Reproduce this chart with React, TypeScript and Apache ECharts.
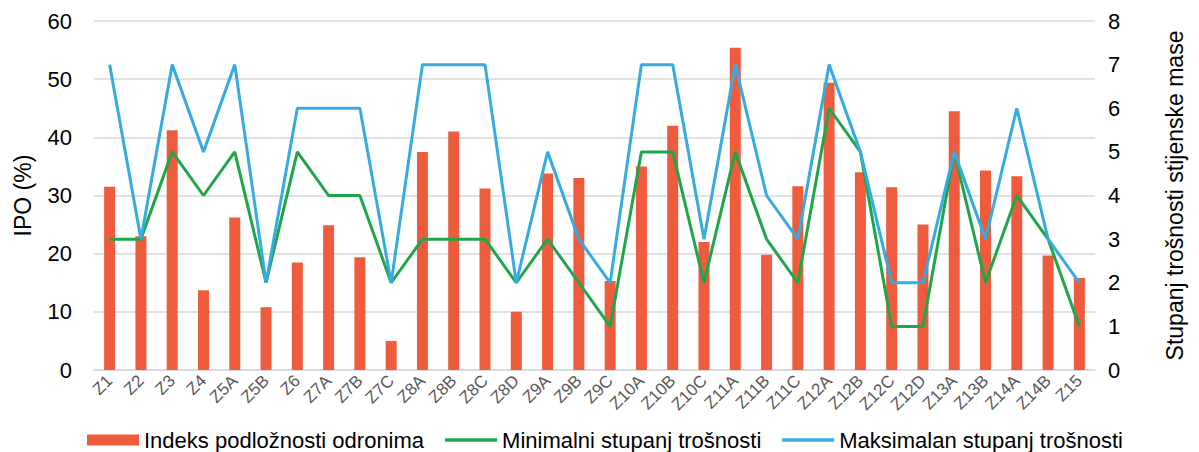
import React, { useEffect, useRef } from "react";
import * as echarts from "echarts";

const categories = ["Z1","Z2","Z3","Z4","Z5A","Z5B","Z6","Z7A","Z7B","Z7C","Z8A","Z8B","Z8C","Z8D","Z9A","Z9B","Z9C","Z10A","Z10B","Z10C","Z11A","Z11B","Z11C","Z12A","Z12B","Z12C","Z12D","Z13A","Z13B","Z14A","Z14B","Z15"];
const ipo = [31.5,23,41.2,13.7,26.2,10.8,18.5,24.9,19.4,5,37.5,41,31.2,10,33.8,33,15.3,35,42,22,55.4,19.8,31.6,49.4,34,31.4,25,44.5,34.3,33.3,19.7,15.8];
const minGrade = [3,3,5,4,5,2,5,4,4,2,3,3,3,2,3,2,1,5,5,2,5,3,2,6,5,1,1,5,2,4,3,1];
const maxGrade = [7,3,7,5,7,2,6,6,6,2,7,7,7,2,5,3,2,7,7,3,7,4,3,7,5,2,2,5,3,6,3,2];
const leftTicks = { min: 0, max: 60, interval: 10 };
const rightTicks = { min: 0, max: 8, interval: 1 };

const FONT = "'Liberation Sans', Arial, sans-serif";
const LINE_ICON = "path://M0,0 L54,0 L54,3.5 L0,3.5 Z";

export default function App() {
  const ref = useRef<HTMLDivElement>(null);
  useEffect(() => {
    if (!ref.current) return;
    const chart = echarts.init(ref.current, undefined, { renderer: "svg" });
    chart.setOption({
      animation: false,
      textStyle: { fontFamily: FONT },
      grid: { left: 94, right: 104, top: 21, bottom: 82 },
      legend: {
        top: 424,
        left: 82,
        itemGap: 21,
        itemWidth: 52,
        itemHeight: 11,
        textStyle: { fontSize: 22, color: "#000", fontFamily: FONT },
        data: [
          { name: "Indeks podložnosti odronima", icon: "rect" },
          { name: "Minimalni stupanj trošnosti", icon: LINE_ICON },
          { name: "Maksimalan stupanj trošnosti", icon: LINE_ICON },
        ],
      },
      xAxis: {
        type: "category",
        data: categories,
        axisLine: { lineStyle: { color: "#d9d9d9", width: 1.5 } },
        axisTick: { show: false },
        axisLabel: { rotate: 45, fontSize: 17, color: "#595959", margin: 8, interval: 0, fontFamily: FONT },
      },
      yAxis: [
        {
          type: "value",
          ...leftTicks,
          name: "IPO (%)",
          nameLocation: "middle",
          nameGap: 60,
          nameTextStyle: { fontSize: 23, color: "#000", fontFamily: FONT },
          axisLabel: { fontSize: 22, color: "#000", margin: 22, fontFamily: FONT },
          splitLine: { lineStyle: { color: "#d9d9d9", width: 1.5 } },
          axisLine: { show: false },
          axisTick: { show: false },
        },
        {
          type: "value",
          ...rightTicks,
          name: "Stupanj trošnosti stijenske mase",
          nameLocation: "middle",
          nameGap: 68,
          nameRotate: 90,
          nameTextStyle: { fontSize: 23, color: "#000", fontFamily: FONT },
          axisLabel: { fontSize: 22, color: "#000", margin: 13, fontFamily: FONT },
          splitLine: { show: false },
          axisLine: { show: false },
          axisTick: { show: false },
        },
      ],
      series: [
        {
          name: "Indeks podložnosti odronima",
          type: "bar",
          data: ipo,
          barWidth: 11,
          itemStyle: { color: "#EF5B3D" },
        },
        {
          name: "Minimalni stupanj trošnosti",
          type: "line",
          yAxisIndex: 1,
          data: minGrade,
          symbol: "none",
          lineStyle: { color: "#1FA64A", width: 3 },
          itemStyle: { color: "#1FA64A" },
        },
        {
          name: "Maksimalan stupanj trošnosti",
          type: "line",
          yAxisIndex: 1,
          data: maxGrade,
          symbol: "none",
          lineStyle: { color: "#36ABE0", width: 3 },
          itemStyle: { color: "#36ABE0" },
        },
      ],
    });
    return () => chart.dispose();
  }, []);
  return <div ref={ref} style={{ width: 1199, height: 452, position: "absolute", left: 0, top: 0 }} />;
}
